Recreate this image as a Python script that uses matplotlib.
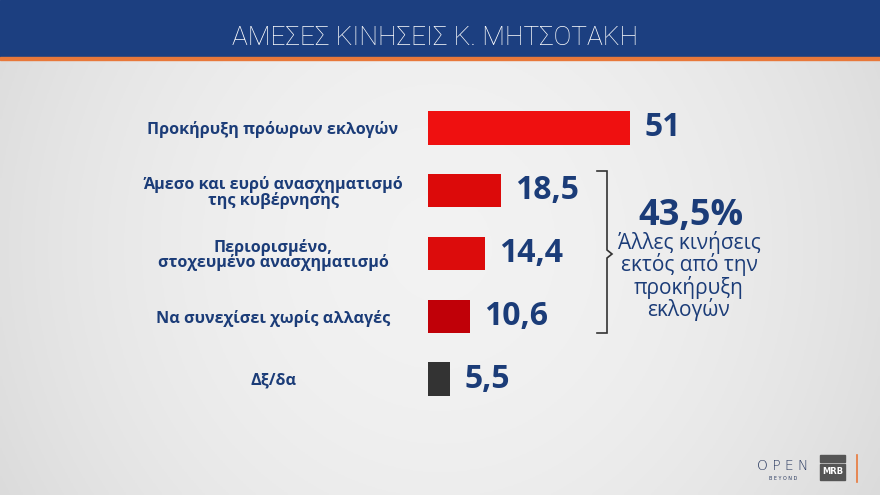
import matplotlib
matplotlib.use("Agg")
import matplotlib.pyplot as plt
import numpy as np
from matplotlib.patches import Rectangle

categories = ["Προκήρυξη πρόωρων εκλογών",
              "Άμεσο και ευρύ ανασχηματισμό\nτης κυβέρνησης",
              "Περιορισμένο,\nστοχευμένο ανασχηματισμό",
              "Να συνεχίσει χωρίς αλλαγές",
              "Δξ/δα"]
values = [51, 18.5, 14.4, 10.6, 5.5]
value_labels = ["51", "18,5", "14,4", "10,6", "5,5"]
bar_colors = ["#ef1010", "#dc0a0a", "#dc0c0c", "#c00008", "#333333"]
title = "ΑΜΕΣΕΣ ΚΙΝΗΣΕΙΣ Κ. ΜΗΤΣΟΤΑΚΗ"
summary_value = "43,5%"
summary_text = "Άλλες κινήσεις\nεκτός από την\nπροκήρυξη\nεκλογών"

W, H = 880, 495
fig = plt.figure(figsize=(W / 100, H / 100), dpi=100)
navy = "#1b3c78"

# background gradient
bg = fig.add_axes([0, 0, 1, 1])
bg.set_axis_off()
xx = np.linspace(-1, 1, 300)
yy = np.linspace(-1, 1, 170)
X, Y = np.meshgrid(xx, yy)
G = 0.95 - 0.07 * (X ** 2) - 0.02 * (Y ** 2)
bg.imshow(np.dstack([G, G, G]), extent=[0, W, 0, H], aspect="auto", origin="lower")
bg.set_xlim(0, W)
bg.set_ylim(H, 0)
# title bar
bg.add_patch(Rectangle((0, 0), W, 57, color="#1c3f80", zorder=2))
bg.add_patch(Rectangle((0, 57), W, 3, color="#e8783a", zorder=2))
bg.text(435, 38, title, color="white", fontsize=19, family="Roboto",
        fontweight="light", ha="center", va="center", zorder=3)

# bracket
bx = 607
bg.plot([597, bx, bx, 612, bx, bx, 597], [171, 171, 250, 254, 258, 333, 333],
        color="#333333", lw=1.2, zorder=3, solid_joinstyle="miter")
bg.text(691, 216, summary_value, color=navy, fontsize=26, family="Open Sans",
        fontweight="bold", ha="center", va="center", zorder=3)
bg.text(689, 276, summary_text, color=navy, fontsize=15, family="Open Sans",
        ha="center", va="center", linespacing=0.98, zorder=3)

# logos
bg.text(783, 466, "O P E N", color="#2a3a60", fontsize=10, family="DejaVu Sans",
        ha="center", va="center", fontweight="light")
bg.text(783, 479, "B E Y O N D", color="#2a3a60", fontsize=3.5, family="DejaVu Sans",
        ha="center", va="center")
bg.add_patch(Rectangle((820, 455), 25, 7, color="#555555", zorder=3))
bg.add_patch(Rectangle((820, 464), 25, 16, color="#555555", zorder=3))
bg.text(832.5, 472, "MRB", color="white", fontsize=6, fontweight="bold",
        ha="center", va="center", zorder=4)
bg.plot([857, 857], [455, 482], color="#e8783a", lw=1.2)

# bar axes
left_px, right_px = 428, 880
top_px, bot_px = 96.6, 410.4
ax = fig.add_axes([left_px / W, 1 - bot_px / H, (right_px - left_px) / W, (bot_px - top_px) / H])
ax.set_facecolor("none")
ypos = np.arange(len(values))
ax.barh(ypos, values, height=0.53, color=bar_colors, edgecolor="none")
ax.set_xlim(0, (right_px - left_px) / 3.96)
ax.set_ylim(len(values) - 0.5, -0.5)
for s in ax.spines.values():
    s.set_visible(False)
ax.set_xticks([])
ax.set_yticks(ypos)
ax.set_yticklabels(categories, fontsize=11.6, fontweight="bold", color=navy,
                   family="Open Sans", linespacing=0.92)
for lab in ax.get_yticklabels():
    lab.set_horizontalalignment("center")
    lab.set_x(-(428 - 273) / (880 - 428))
ax.tick_params(axis="y", length=0, pad=0)
for i, (v, t) in enumerate(zip(values, value_labels)):
    ax.text(v + 3.6, i, t, color=navy, fontsize=23, fontweight="bold",
            family="Open Sans", va="center", ha="left")

fig.savefig("out.png", dpi=100)
